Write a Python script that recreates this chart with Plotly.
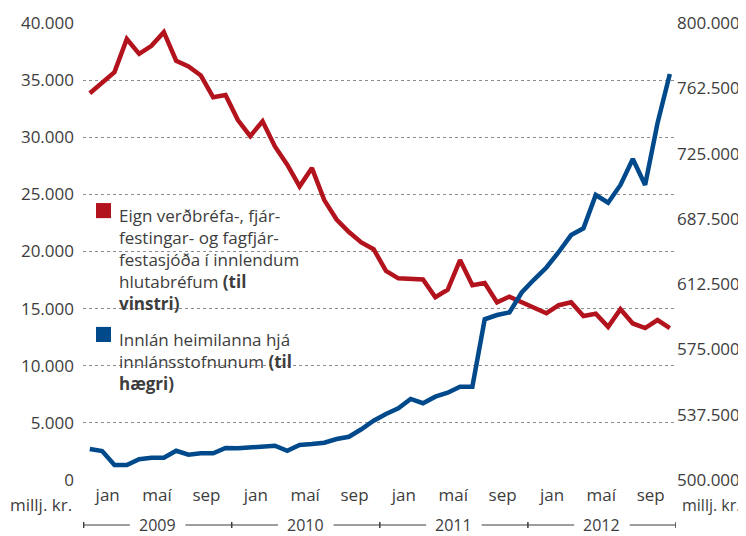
import plotly.graph_objects as go

# ---- data (monthly, Jan 2009 - Dec 2012) ----
months = list(range(48))  # month index, 0 = jan 2009

# Eign verðbréfa-, fjárfestingar- og fagfjárfestasjóða í innlendum hlutabréfum (left axis, millj. kr.)
red_values = [33850, 34800, 35700, 38600, 37300, 38000, 39200, 36700, 36200, 35400, 33500, 33700,
              31500, 30100, 31400, 29200, 27600, 25700, 27300, 24500, 22800, 21700, 20800, 20200,
              18300, 17650, 17600, 17550, 16000, 16650, 19250, 17050, 17250, 15550, 16050, 15600,
              15150, 14600, 15300, 15550, 14350, 14550, 13400, 14950, 13700, 13300, 14000, 13300]

# Innlán heimilanna hjá innlánsstofnunum (right axis, millj. kr.)
blue_values = [520400, 519000, 509800, 509800, 513600, 514600, 514600, 519200, 516600, 517500, 517500, 521000,
               520800, 521200, 522300, 522500, 519200, 523000, 523600, 524500, 526900, 528400, 533300, 538900,
               543300, 547100, 553200, 550400, 554700, 557300, 561200, 561200, 605500, 608300, 610000, 623100,
               631600, 639500, 649700, 660800, 665200, 687100, 682000, 693700, 710700, 693700, 734200, 766500]

# x tick labels (month names) and their month positions
xtick_labels = ["jan", "maí", "sep", "jan", "maí", "sep", "jan", "maí", "sep", "jan", "maí", "sep"]
xtick_months = [0, 4, 8, 12, 16, 20, 24, 28, 32, 36, 40, 44]
years = ["2009", "2010", "2011", "2012"]

left_ticks = [0, 5000, 10000, 15000, 20000, 25000, 30000, 35000, 40000]
left_tick_labels = ["0", "5.000", "10.000", "15.000", "20.000", "25.000", "30.000", "35.000", "40.000"]
right_tick_labels = ["500.000", "537.500", "575.000", "612.500", "687.500", "725.000", "762.500", "800.000"]

red_name = "Eign verðbréfa-, fjár-<br>festingar- og fagfjár-<br>festasjóða í innlendum<br>hlutabréfum <b>(til</b><br><b>vinstri)</b>"
blue_name = "Innlán heimilanna hjá<br>innlánsstofnunum <b>(til</b><br><b>hægri)</b>"

RED = "#b3131d"
BLUE = "#004a8c"
TXT = "#3d3d3d"
FONT = "Open Sans"
FS = 17

R_MIN, R_MAX = 500000, 800000
right_tickvals = [R_MIN + k * (R_MAX - R_MIN) / (len(right_tick_labels) - 1) for k in range(len(right_tick_labels))]

fig = go.Figure()
fig.add_trace(go.Scatter(x=months, y=red_values, mode="lines", line=dict(color=RED, width=4.5),
                         yaxis="y", showlegend=False, hoverinfo="skip"))
fig.add_trace(go.Scatter(x=months, y=blue_values, mode="lines", line=dict(color=BLUE, width=4.5),
                         yaxis="y2", showlegend=False, hoverinfo="skip"))

# page body has an 8px margin, so the figure is 8px smaller and margins shifted accordingly
fig.update_layout(
    width=738, height=528,
    margin=dict(l=75, r=70, t=15, b=56, autoexpand=False),
    paper_bgcolor="white", plot_bgcolor="white",
    font=dict(family=FONT, size=FS, color=TXT),
    xaxis=dict(range=[-0.55, 47.5], showgrid=False, zeroline=False, showline=False,
               tickvals=[m + 1.45 for m in xtick_months], ticktext=xtick_labels,
               ticks="", ticklabelstandoff=3, automargin=False),
    yaxis=dict(range=[0, 40000], tickvals=left_ticks, ticktext=left_tick_labels,
               showgrid=True, gridcolor="#8c8c8c", gridwidth=1, griddash="dot",
               zeroline=False, showline=False, ticks="", ticklabelstandoff=8, automargin=False),
    yaxis2=dict(range=[R_MIN, R_MAX], overlaying="y", side="right",
                tickvals=right_tickvals, ticktext=right_tick_labels,
                showgrid=False, zeroline=False, showline=False, ticks="", ticklabelstandoff=0,
                automargin=False),
)

shapes = []
# white legend box
shapes.append(dict(type="rect", xref="paper", yref="paper", x0=0.0135, x1=0.3845, y0=0.186, y1=0.617,
                   fillcolor="white", line=dict(width=0), layer="between"))
# legend squares
shapes.append(dict(type="rect", xref="paper", yref="paper", x0=0.0219, x1=0.0472, y0=0.573, y1=0.606,
                   fillcolor=RED, line=dict(width=0)))
shapes.append(dict(type="rect", xref="paper", yref="paper", x0=0.0219, x1=0.0472, y0=0.302, y1=0.335,
                   fillcolor=BLUE, line=dict(width=0)))
# year bracket: line segments with a gap round each year label, and small boundary ticks
GAP = 2.25  # half-gap in months around year label centre
for i in range(len(years)):
    start, end, centre = i * 12 - 0.5, i * 12 + 11.5, i * 12 + 5.5
    for a, b in [(start, centre - GAP), (centre + GAP, end)]:
        shapes.append(dict(type="line", xref="x", yref="paper", ysizemode="pixel", yanchor=0,
                           x0=a, x1=b, y0=-45, y1=-45, line=dict(color=TXT, width=1)))
for b in [-0.5, 11.5, 23.5, 35.5, 47.5]:
    shapes.append(dict(type="line", xref="x", yref="paper", ysizemode="pixel", yanchor=0,
                       x0=b, x1=b, y0=-42, y1=-48, line=dict(color=TXT, width=1.5)))

annotations = []
annotations.append(dict(xref="paper", yref="paper", x=0.0573, y=0.608, xanchor="left", yanchor="top",
                        text=red_name, showarrow=False, align="left", font=dict(size=FS, color=TXT)))
annotations.append(dict(xref="paper", yref="paper", x=0.0573, y=0.337, xanchor="left", yanchor="top",
                        text=blue_name, showarrow=False, align="left", font=dict(size=FS, color=TXT)))
annotations.append(dict(xref="paper", yref="paper", x=0, y=0, xanchor="right", yanchor="middle",
                        xshift=-9, yshift=-24, text="millj. kr.", showarrow=False))
annotations.append(dict(xref="paper", yref="paper", x=1, y=0, xanchor="left", yanchor="middle",
                        xshift=4, yshift=-25, text="millj. kr.", showarrow=False, font=dict(size=16)))
for i, yr in enumerate(years):
    annotations.append(dict(xref="x", yref="paper", x=i * 12 + 5.5, y=0, xanchor="center", yanchor="middle",
                            yshift=-45, text=yr, showarrow=False, borderpad=0, font=dict(size=16)))

fig.update_layout(shapes=shapes, annotations=annotations)
fig.write_html("out.html")
